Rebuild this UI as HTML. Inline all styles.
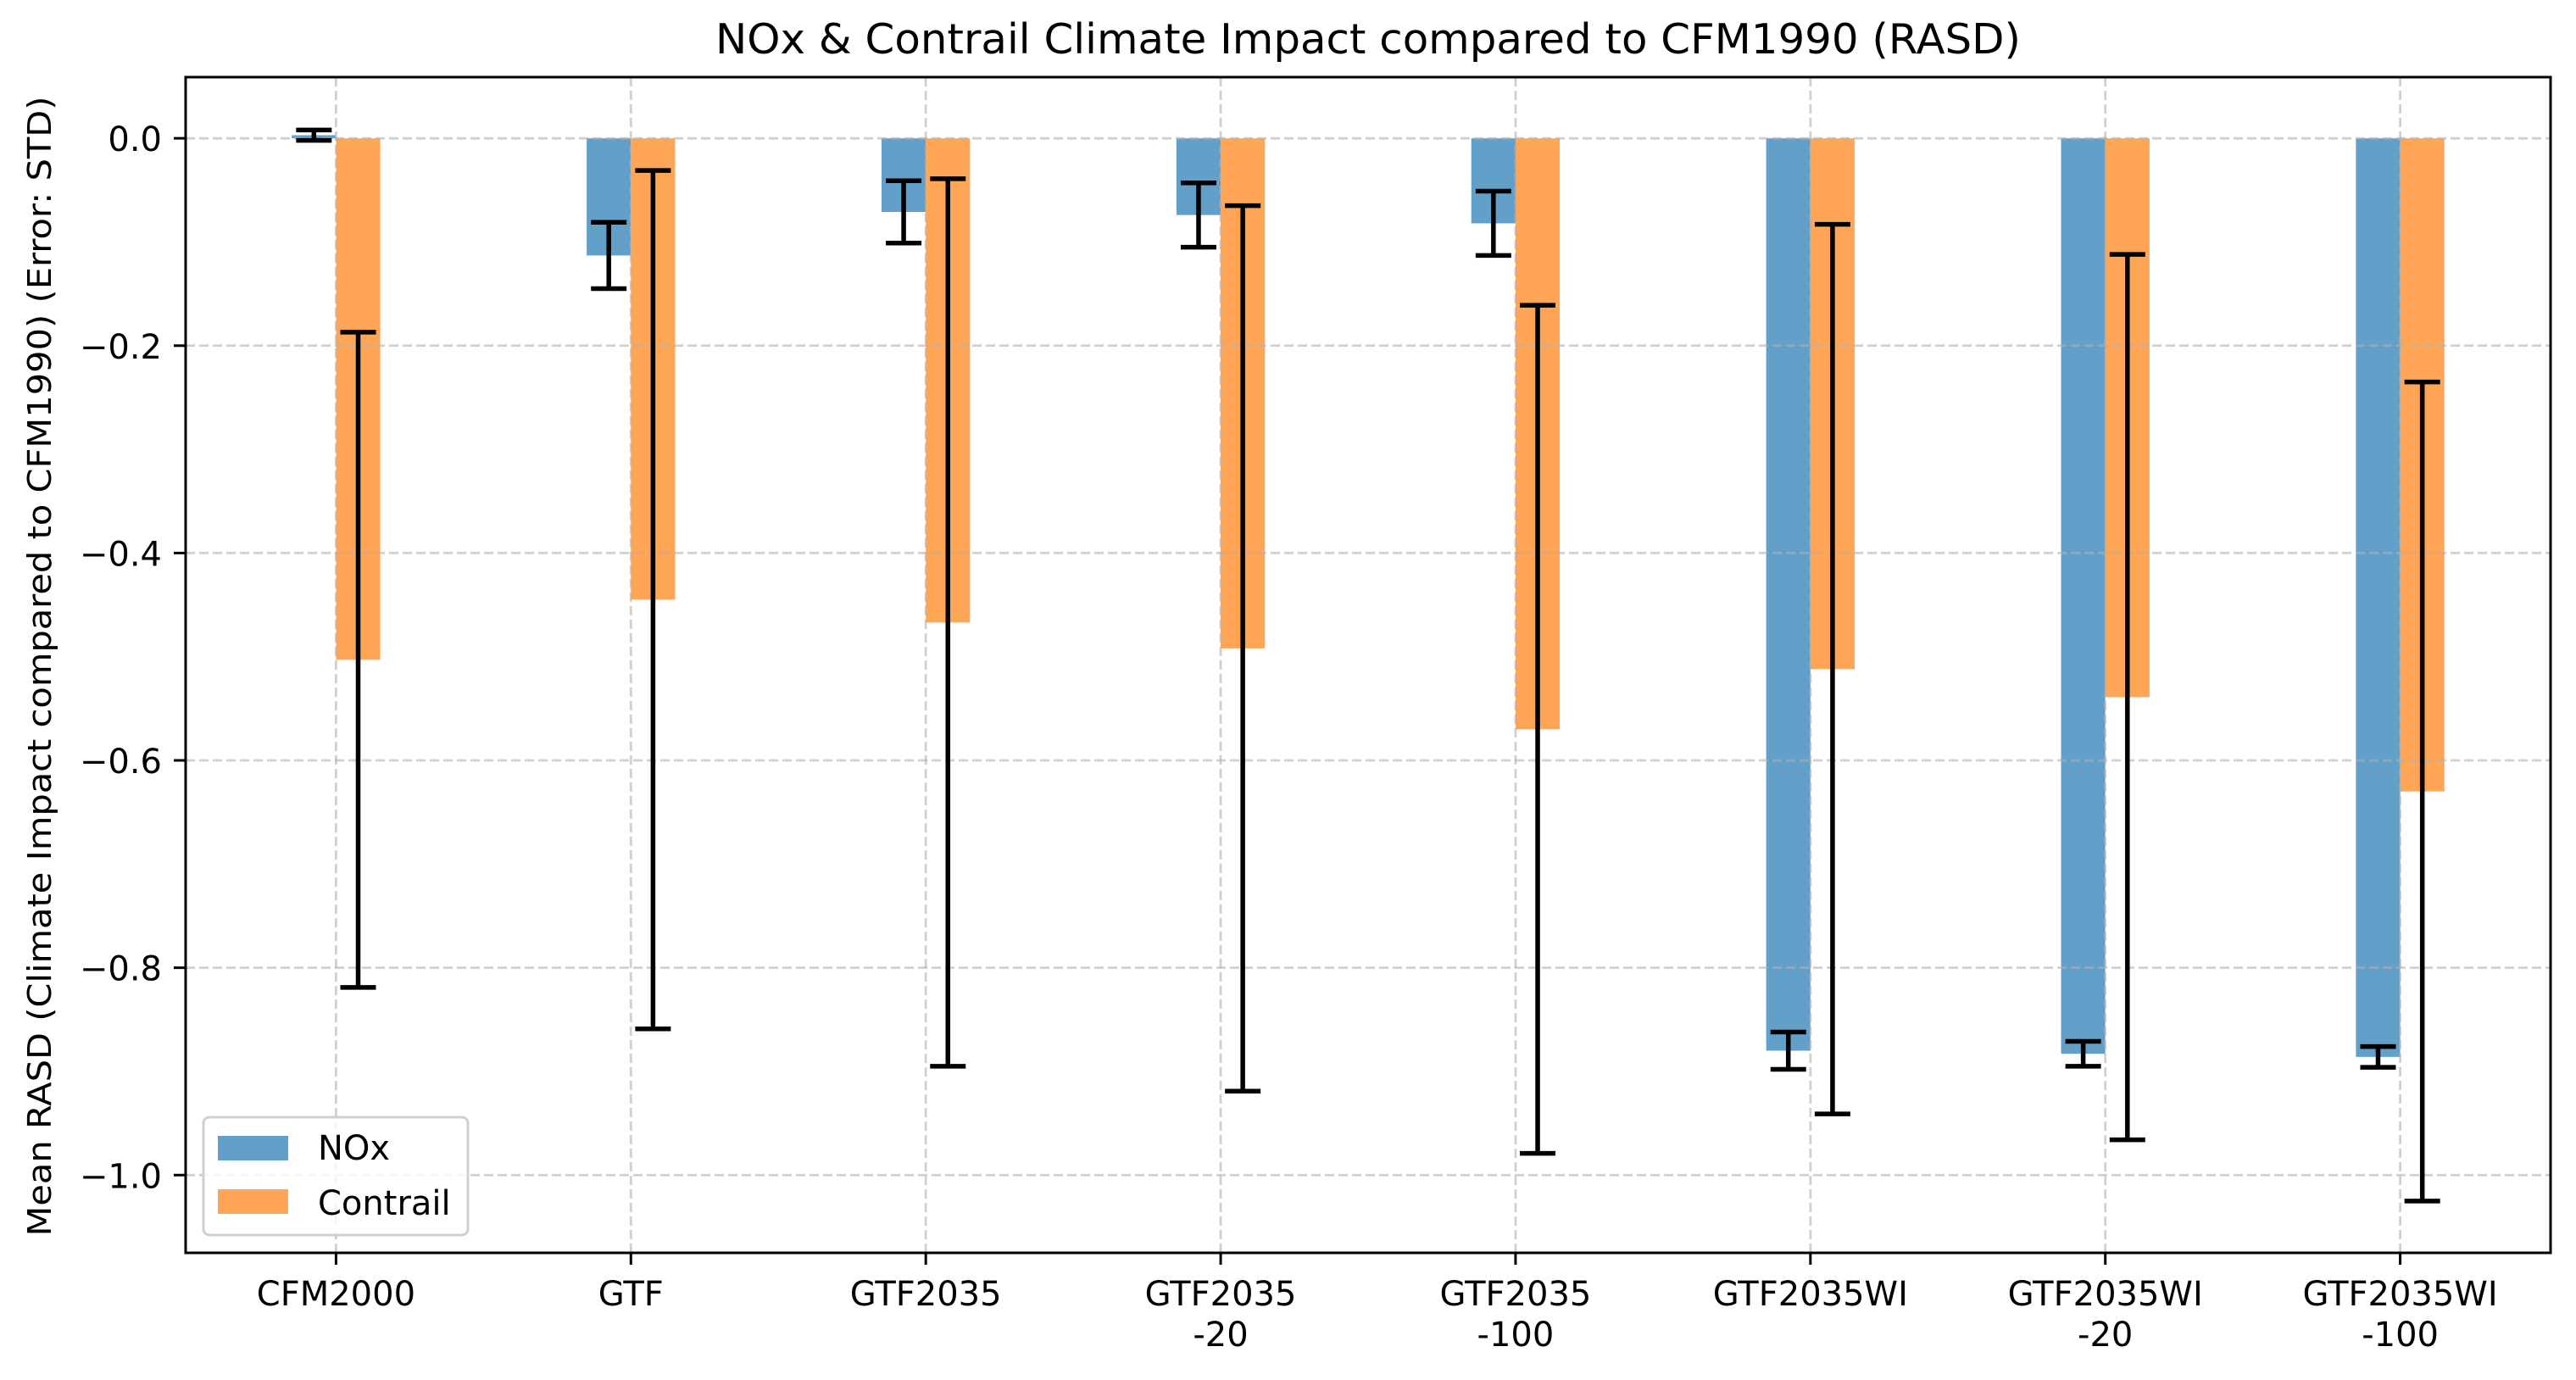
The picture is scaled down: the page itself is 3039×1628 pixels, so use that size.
<!DOCTYPE html>
<html><head><meta charset="utf-8"><style>
html,body{margin:0;padding:0;background:#fff;}
svg{display:block;font-family:"DejaVu Sans","Liberation Sans",sans-serif;}
</style></head><body>
<svg id="chart" width="3039" height="1628" viewBox="0 0 3039 1628" xmlns="http://www.w3.org/2000/svg">
<rect x="0" y="0" width="3039" height="1628" fill="#fff"/>
<text x="1614" y="63" font-size="49" text-anchor="middle" textLength="1540" lengthAdjust="spacingAndGlyphs">NOx &amp; Contrail Climate Impact compared to CFM1990 (RASD)</text>
<text transform="translate(60,786) rotate(-90)" font-size="38" text-anchor="middle" textLength="1345" lengthAdjust="spacingAndGlyphs">Mean RASD (Climate Impact compared to CFM1990) (Error: STD)</text>
<g id="bars"></g>
<g id="grid"></g>
<g id="errs"></g>
<g id="axes"></g>
<g>
<rect x="240" y="1318" width="312" height="139" rx="7" fill="#fff" fill-opacity="0.8" stroke="#d0d0d0" stroke-width="3"/>
<rect x="257" y="1340" width="83" height="29" fill="#62a0ca"/>
<text x="375" y="1368" font-size="40">NOx</text>
<rect x="257" y="1403" width="83" height="29" fill="#ffa556"/>
<text x="375" y="1433" font-size="40">Contrail</text>
</g>
</svg>
<script>
const categories = [["CFM2000"],["GTF"],["GTF2035"],["GTF2035","-20"],["GTF2035","-100"],["GTF2035WI"],["GTF2035WI","-20"],["GTF2035WI","-100"]];
const noxMean = [0.003,-0.113,-0.071,-0.074,-0.082,-0.880,-0.883,-0.886];
const noxStd = [0.005,0.032,0.030,0.031,0.031,0.018,0.012,0.010];
const contrailMean = [-0.503,-0.445,-0.467,-0.492,-0.570,-0.512,-0.539,-0.630];
const contrailStd = [0.316,0.414,0.428,0.427,0.409,0.429,0.427,0.395];
const yTicks = [0.0,-0.2,-0.4,-0.6,-0.8,-1.0];
const yTickLabels = ["0.0","\u22120.2","\u22120.4","\u22120.6","\u22120.8","\u22121.0"];

const L=219,R=3009,T=91,B=1478;
const xMin=-0.51,xMax=7.51,yMax=0.059,yMin=-1.075;
const W=0.15;
function sx(v){return L+(v-xMin)/(xMax-xMin)*(R-L);}
function sy(v){return T+(yMax-v)/(yMax-yMin)*(B-T);}
const NS="http://www.w3.org/2000/svg";
function mk(tag,attrs,parent){const e=document.createElementNS(NS,tag);for(const k in attrs)e.setAttribute(k,attrs[k]);parent.appendChild(e);return e;}
const gB=document.getElementById('bars'),gG=document.getElementById('grid'),gE=document.getElementById('errs'),gA=document.getElementById('axes');

categories.forEach((c,i)=>{
  const y0=sy(0);
  let yv=sy(noxMean[i]);
  let r=mk('rect',{x:sx(i-W),y:Math.min(y0,yv),width:sx(i)-sx(i-W),height:Math.max(1,Math.abs(yv-y0)),fill:'#62a0ca'},gB);
  
  
  yv=sy(contrailMean[i]);
  r=mk('rect',{x:sx(i),y:Math.min(y0,yv),width:sx(i+W)-sx(i),height:Math.abs(yv-y0),fill:'#ffa556'},gB);
  
  
  [[i-W/2,noxMean[i],noxStd[i],'nox'],[i+W/2,contrailMean[i],contrailStd[i],'contrail']].forEach(([cx,m,s,n])=>{
    const g=mk('g',{stroke:'#000','stroke-width':5.5},gE);
    
    
    const x=sx(cx),y1=sy(m+s),y2=sy(m-s);
    mk('line',{x1:x,x2:x,y1:y1,y2:y2},g);
    mk('line',{x1:x-21,x2:x+21,y1:y1,y2:y1},g);
    mk('line',{x1:x-21,x2:x+21,y1:y2,y2:y2},g);
  });
  const gx=mk('line',{x1:sx(i),x2:sx(i),y1:T,y2:B,stroke:'#b0b0b0','stroke-opacity':0.6,'stroke-width':2.8,'stroke-dasharray':'11,5'},gG);
  
  
  const tk=mk('line',{x1:sx(i),x2:sx(i),y1:B,y2:B+14,stroke:'#000','stroke-width':3},gA);
  
  
  c.forEach((ln,j)=>{
    const t=mk('text',{x:sx(i),y:1540+j*48,'font-size':40,'text-anchor':'middle'},gA);
    t.textContent=ln;
    
    
  });
});
yTicks.forEach((v,k)=>{
  const y=sy(v);
  const gl=mk('line',{x1:L,x2:R,y1:y,y2:y,stroke:'#b0b0b0','stroke-opacity':0.6,'stroke-width':2.8,'stroke-dasharray':'11,5'},gG);
  
  
  const tk=mk('line',{x1:L-14,x2:L,y1:y,y2:y,stroke:'#000','stroke-width':3},gA);
  
  
  const t=mk('text',{x:L-28,y:y+15,'font-size':40,'text-anchor':'end'},gA);
  t.textContent=yTickLabels[k];
  
  
});
const fr=mk('rect',{x:L,y:T,width:R-L,height:B-T,fill:'none',stroke:'#000','stroke-width':3},gA);


</script>
</body></html>
